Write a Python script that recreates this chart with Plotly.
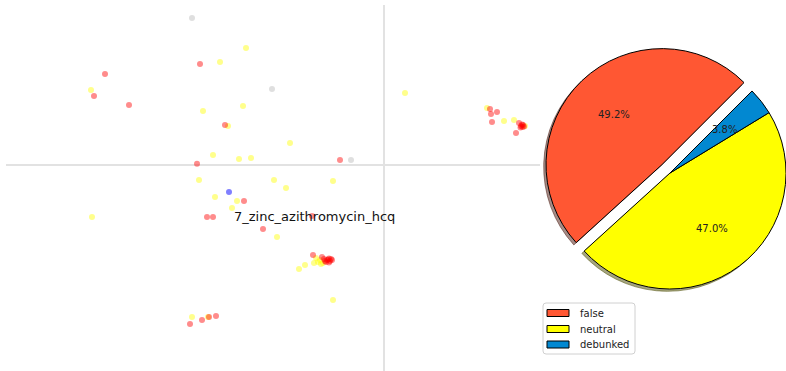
import numpy as np
import plotly.graph_objects as go

# ---------------- scatter: 2-D embedding of claims, coloured by verdict ----------------
false_x = [-1.84, -2.79, -2.90, -2.55, -1.59, -1.87, -0.44, -1.40, -1.77, -1.71,
           -1.21, -1.94, -1.82, -1.75, -1.68, 1.06, 1.13, 1.07, 1.08, 1.35,
           1.32, -0.71, -0.72,
           1.37, 1.385, 1.39, 1.365, 1.38, 1.40,
           -0.60, -0.57, -0.55, -0.54, -0.58, -0.56, -0.53, -0.59, -0.62, -0.55, -0.52]
false_y = [1.01, 0.91, 0.69, 0.60, 0.40, 0.013, 0.05, -0.36, -0.52, -0.52,
           -0.64, -1.59, -1.55, -1.52, -1.51, 0.56, 0.53, 0.51, 0.43, 0.42,
           0.32, -0.90, -0.51,
           0.39, 0.38, 0.40, 0.375, 0.405, 0.385,
           -0.94, -0.95, -0.935, -0.96, -0.97, -0.945, -0.94, -0.96, -0.92, -0.975, -0.95]

neutral_x = [-1.38, -1.64, -2.93, -1.81, -1.41, -1.56, -1.71, -1.45, -1.33, -1.85,
             -0.94, 0.21, -1.10, -0.98, -0.51, -1.69, -1.47, -1.52, -2.92, -1.07,
             -1.92, -1.76, -0.85, -0.79, -0.51, 1.03, 1.20, 1.30, 1.41,
             -0.68, -0.66, -0.64, -0.70, -0.63, -0.61]
neutral_y = [1.17, 1.03, 0.75, 0.54, 0.59, 0.39, 0.10, 0.06, 0.07, -0.15,
             0.22, 0.72, -0.15, -0.23, -0.16, -0.32, -0.36, -0.43, -0.52, -0.72,
             -1.52, -1.52, -1.04, -1.00, -1.35, 0.57, 0.44, 0.45, 0.39,
             -0.93, -0.97, -0.95, -0.98, -0.99, -0.98]

debunked_x = [-1.55]
debunked_y = [-0.27]

unlabelled_x = [-1.92, -1.12, -0.33]
unlabelled_y = [1.47, 0.76, 0.05]

topic_label = "7_zinc_azithromycin_hcq"
topic_x, topic_y = -1.52, -0.515

# ---------------- pie: share of each verdict ----------------
pie_labels = ["false", "neutral", "debunked"]
pie_counts = [65, 62, 5]
pie_colors = ["#ff5733", "#ffff00", "#0288d1"]

W, H = 786, 371
FONT = "DejaVu Sans"


def dots(x, y, color, name, opacity=0.45):
    return go.Scatter(x=x, y=y, mode="markers", name=name, showlegend=False,
                      hoverinfo="skip",
                      marker=dict(color=color, size=6, opacity=opacity,
                                  line=dict(width=0)))


fig = go.Figure()
fig.add_trace(dots(unlabelled_x, unlabelled_y, "#c0c0c0", "unlabelled", 0.5))
fig.add_trace(dots(neutral_x, neutral_y, "#ffff00", "neutral"))
fig.add_trace(dots(false_x, false_y, "#ff0000", "false"))
fig.add_trace(dots(debunked_x, debunked_y, "#0000ff", "debunked", 0.5))

annotations = [dict(x=topic_x, y=topic_y, xref="x", yref="y", text=topic_label,
                    showarrow=False, xanchor="left", yanchor="middle",
                    font=dict(family=FONT, size=13, color="#111111"))]

# pie geometry (pixels); angles counter-clockwise from 3 o'clock
CX, CY, R = 670.0, 173.0, 116.0
START = 45.0
EXPLODE = [0.1, 0.0, 0.0]
SHADOW = 0.02
PCT_DIST = 0.6

total = float(sum(pie_counts))
fracs = np.array(pie_counts) / total
starts = START + 360.0 * np.concatenate([[0.0], np.cumsum(fracs)[:-1]])
mids = np.radians(starts + 180.0 * fracs)
n = len(pie_labels)
CLEAR = "rgba(0,0,0,0)"


def pie_domain(cx, cy):
    return dict(x=[max(0.0, (cx - R) / W), min(1.0, (cx + R) / W)],
                y=[max(0.0, (H - cy - R) / H), min(1.0, (H - cy + R) / H)])


def shade(hex_color):
    h = hex_color.lstrip("#")
    r, g, b = (int(h[k:k + 2], 16) for k in (0, 2, 4))
    return f"rgba({int(0.3 * r)},{int(0.3 * g)},{int(0.3 * b)},0.5)"


def wedge(i, cx, cy, face, edge, edge_w):
    # one pie trace per wedge so each can be pulled out on its own;
    # drawn clockwise, so the order is reversed
    colors = [face if j == i else CLEAR for j in range(n)][::-1]
    lcolors = [edge if j == i else CLEAR for j in range(n)][::-1]
    lwidths = [edge_w if j == i else 0 for j in range(n)][::-1]
    return go.Pie(labels=pie_labels[::-1], values=pie_counts[::-1], sort=False,
                  direction="clockwise", rotation=90 - START,
                  domain=pie_domain(cx, cy), textinfo="none", hoverinfo="skip",
                  showlegend=False,
                  marker=dict(colors=colors, line=dict(color=lcolors, width=lwidths)))


centres = []
for i in range(n):
    dx = EXPLODE[i] * R * np.cos(mids[i])
    dy = -EXPLODE[i] * R * np.sin(mids[i])
    centres.append((CX + dx, CY + dy))

# drop shadows first, then the wedges
for i in range(n):
    cx, cy = centres[i]
    sc = shade(pie_colors[i])
    fig.add_trace(wedge(i, cx - SHADOW * R, cy + SHADOW * R, sc, sc, 1))
for i in range(n):
    cx, cy = centres[i]
    fig.add_trace(wedge(i, cx, cy, pie_colors[i], "#000000", 1))

# percentage labels
for i in range(n):
    cx, cy = centres[i]
    tx = cx + PCT_DIST * R * np.cos(mids[i])
    ty = cy - PCT_DIST * R * np.sin(mids[i])
    annotations.append(dict(x=tx / W, y=1 - ty / H, xref="paper", yref="paper",
                            text=f"{100 * pie_counts[i] / total:.1f}%",
                            showarrow=False, xanchor="center", yanchor="middle",
                            font=dict(family=FONT, size=10, color="#222222")))

# legend box for the pie
def px(x):
    return x / W


def py(y):
    return 1 - y / H


shapes = []
L, T, Rr, B, rad = 543, 303, 635, 354, 3
frame = (f"M {px(L + rad)},{py(T)} L {px(Rr - rad)},{py(T)} "
         f"Q {px(Rr)},{py(T)} {px(Rr)},{py(T + rad)} L {px(Rr)},{py(B - rad)} "
         f"Q {px(Rr)},{py(B)} {px(Rr - rad)},{py(B)} L {px(L + rad)},{py(B)} "
         f"Q {px(L)},{py(B)} {px(L)},{py(B - rad)} L {px(L)},{py(T + rad)} "
         f"Q {px(L)},{py(T)} {px(L + rad)},{py(T)} Z")
shapes.append(dict(type="path", path=frame, xref="paper", yref="paper",
                   fillcolor="rgba(255,255,255,0.8)", line=dict(color="#d0d0d0", width=1)))
rows = [313, 329, 344.5]
for i in range(n):
    yc = rows[i]
    shapes.append(dict(type="rect", xref="paper", yref="paper",
                       x0=px(547), x1=px(569), y0=py(yc + 3.5), y1=py(yc - 3.5),
                       fillcolor=pie_colors[i], line=dict(color="#000000", width=1)))
    annotations.append(dict(x=px(578), y=py(yc), xref="paper", yref="paper",
                            text=pie_labels[i], showarrow=False,
                            xanchor="left", yanchor="middle",
                            font=dict(family=FONT, size=10, color="#222222")))

axis_common = dict(showgrid=False, zeroline=True, zerolinecolor="#e2e2e2",
                   zerolinewidth=1.5, showticklabels=False, ticks="",
                   showline=False, fixedrange=True)

fig.update_layout(
    width=W, height=H,
    margin=dict(l=0, r=0, t=0, b=0),
    paper_bgcolor="white", plot_bgcolor="white",
    showlegend=False,
    xaxis=dict(domain=[6 / W, 540 / W], range=[-3.78, 1.56], **axis_common),
    yaxis=dict(domain=[0, 366 / H], range=[-2.06, 1.60], **axis_common),
    annotations=annotations,
    shapes=shapes,
    font=dict(family=FONT),
)

fig.write_html("out.html")
